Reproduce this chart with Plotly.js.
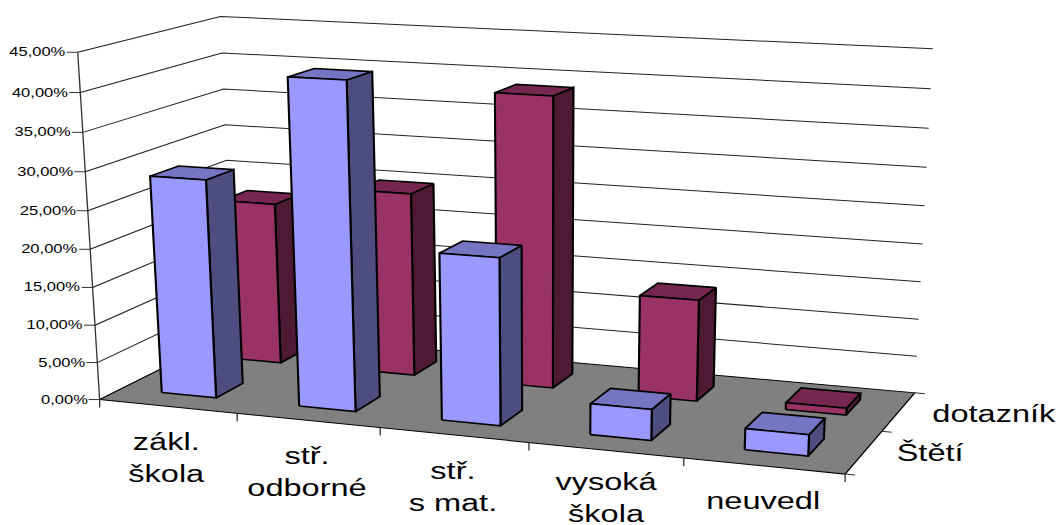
<!DOCTYPE html>
<html><head><meta charset="utf-8">
<script src="https://cdn.plot.ly/plotly-3.0.1.min.js"></script>
<style>html,body{margin:0;padding:0;background:#fff;overflow:hidden}
#chart{width:800px;height:525px;transform-origin:0 0;transform:scaleX(1.3225)}</style>
</head><body><div id="chart"></div>
<script>
// ---- data ----
const categories = ['zákl.<br>škola','stř.<br>odborné','stř.<br>s mat.','vysoká<br>škola','neuvedl'];
const seriesNames = ['Štětí','dotazník'];
const stetiValues = [28.8, 42.4, 21.6, 4.0, 2.7];
const dotaznikValues = [22.1, 24.8, 38.7, 13.5, 0.9];
const valueTicks = [0,5,10,15,20,25,30,35,40,45];
const valueLabels = ['0,00%','5,00%','10,00%','15,00%','20,00%','25,00%','30,00%','35,00%','40,00%','45,00%'];

// ---- styles ----
const stetiColors = {front:'#9999FF', top:'#7575C4', side:'#4D4D80'};
const dotaznikColors = {front:'#993366', top:'#75274F', side:'#4D1933'};
const floorColor = '#808080';

// ---- oblique camera: box space (category, depth 0..1, value) -> page, fitted by least squares ----
const calibration = [
 [0,0,0,98,400],[0,0,45,79,53],[0,1,45,220,15.5],[5,1,45,933,49],[5,1,0,914,393],[5,0,0,846,474],[0,1,0,237,333],
 [1,0,0,237,413],[2,0,0,379,427],[3,0,0,529,442],[4,0,0,684,458],[0,0,30,86,172],[0,1,30,223,124.5],[5,1,30,926.7,167.5]
];
function fitCamera(pts){
  const n=11, A=Array.from({length:n},()=>new Array(n+1).fill(0));
  const add=(r,b)=>{for(let i=0;i<n;i++){for(let j=0;j<n;j++)A[i][j]+=r[i]*r[j];A[i][n]+=r[i]*b;}};
  pts.forEach(([u,v,w,x,y])=>{const U=u/5,W=w/45;
    add([U,v,W,1,0,0,0,0,-x*U,-x*v,-x*W],x);
    add([0,0,0,0,U,v,W,1,-y*U,-y*v,-y*W],y);});
  for(let c=0;c<n;c++){let p=c;for(let r=c+1;r<n;r++)if(Math.abs(A[r][c])>Math.abs(A[p][c]))p=r;
    [A[c],A[p]]=[A[p],A[c]];
    for(let r=0;r<n;r++)if(r!==c){const f=A[r][c]/A[c][c];for(let k=c;k<=n;k++)A[r][k]-=f*A[c][k];}}
  return A.map((row,i)=>row[n]/row[i]);
}
const cam=fitCamera(calibration);
function proj(u,v,w){const U=u/5,W=w/45,d=cam[8]*U+cam[9]*v+cam[10]*W+1;
  return [(cam[0]*U+cam[1]*v+cam[2]*W+cam[3])/d,(cam[4]*U+cam[5]*v+cam[6]*W+cam[7])/d];}

function poly(points){const xs=[],ys=[];points.forEach(p=>{if(p){xs.push(p[0]);ys.push(p[1]);}else{xs.push(null);ys.push(null);}});return {x:xs,y:ys};}
const lineTrace=(pts,color,width,name)=>Object.assign(poly(pts),{type:'scatter',mode:'lines',name:name||'',line:{color,width},hoverinfo:'skip',showlegend:false});
const faceTrace=(pts,fill,name)=>Object.assign(poly(pts),{type:'scatter',mode:'lines',name,fill:'toself',fillcolor:fill,line:{color:'#000',width:1.6,shape:'linear'},hoverinfo:'skip',showlegend:false});

const traces=[];
// floor
traces.push(faceTrace([proj(0,0,0),proj(5,0,0),proj(5,1,0),proj(0,1,0),proj(0,0,0)],floorColor,'floor'));
traces[0].line.width=1;
// gridlines on walls
const grid=[];
valueTicks.filter(t=>t>0).forEach(t=>{grid.push(proj(0,0,t),proj(0,1,t),proj(5,1,t),null);});
traces.push(lineTrace(grid,'#222',1,'grid'));
// axes and tick marks
const ax=[proj(0,0,45),proj(0,0,0),null];
const tickDown=p=>[p,[p[0],p[1]+8],null];
valueTicks.forEach(t=>{const p=proj(0,0,t);ax.push(p,[p[0]-11,p[1]],null);});
[0,1,2,3,4,5].forEach(i=>ax.push(...tickDown(proj(i,0,0))));
[0,0.5,1].forEach(d=>{const p=proj(5,d,0);ax.push(p,[p[0]+10,p[1]+1],null);});
traces.push(lineTrace(ax,'#333',1,'axes'));
// bars: back series first
[[dotaznikValues,1,dotaznikColors,seriesNames[1]],[stetiValues,0,stetiColors,seriesNames[0]]].forEach(([vals,s,col,name])=>{
  const v0=(s+0.3)/2, v1=(s+0.7)/2, side=[],top=[],front=[];
  vals.forEach((val,i)=>{const u0=i+0.3,u1=i+0.7;
    front.push(proj(u0,v0,0),proj(u1,v0,0),proj(u1,v0,val),proj(u0,v0,val),proj(u0,v0,0),null);
    side.push(proj(u1,v0,0),proj(u1,v1,0),proj(u1,v1,val),proj(u1,v0,val),proj(u1,v0,0),null);
    top.push(proj(u0,v0,val),proj(u1,v0,val),proj(u1,v1,val),proj(u0,v1,val),proj(u0,v0,val),null);
  });
  traces.push(faceTrace(side,col.side,name),faceTrace(top,col.top,name),faceTrace(front,col.front,name));
});

// text
const annotations=[];
const txt=(x,y,text,size,xa)=>annotations.push({x,y,text,xref:'x',yref:'y',showarrow:false,xanchor:xa,yanchor:'middle',align:'center',
  font:{family:'Liberation Sans, Arial, sans-serif',size,color:'#000'},borderpad:0,borderwidth:0});
valueTicks.forEach((t,i)=>{const p=proj(0,0,t);txt(p[0]-13,p[1],valueLabels[i],12.5,'right');});
const catCenters=[166,307,453,606,763], catMid=[457,471,486,497,500];
categories.forEach((c,i)=>txt(catCenters[i],catMid[i],c,24.6,'center'));
txt(932,413,seriesNames[1],24.6,'left');
txt(897,452,seriesNames[0],24.6,'left');

Plotly.newPlot('chart',traces,{
  width:800,height:525,margin:{l:0,r:0,t:0,b:0},paper_bgcolor:'#fff',plot_bgcolor:'#fff',showlegend:false,
  xaxis:{range:[0,1058],visible:false,fixedrange:true},
  yaxis:{range:[525,0],visible:false,fixedrange:true},
  annotations
},{displayModeBar:false,staticPlot:true});
</script></body></html>
